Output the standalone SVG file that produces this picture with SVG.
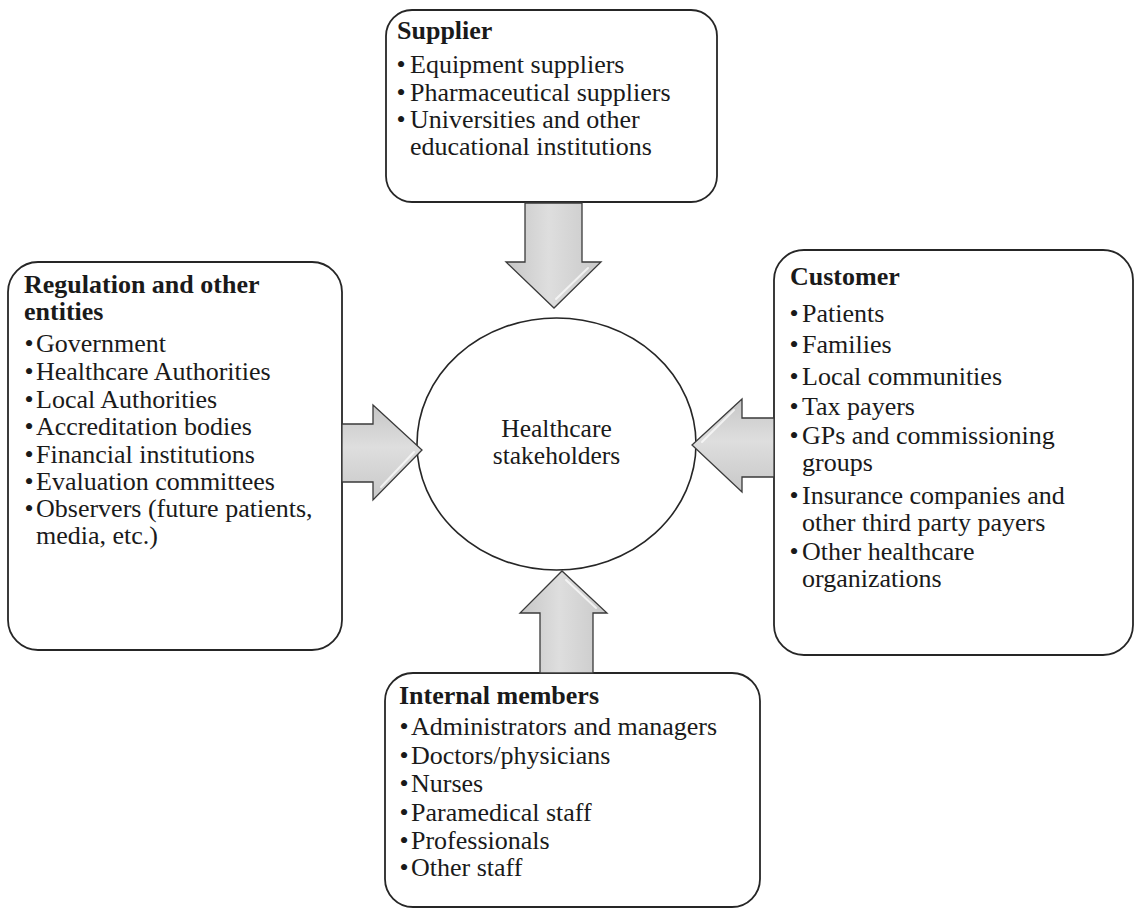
<svg xmlns="http://www.w3.org/2000/svg" width="1135" height="911" viewBox="0 0 1135 911">
  <defs>
    <linearGradient id="shadeV" x1="0" y1="0" x2="1" y2="0">
      <stop offset="0" stop-color="#c6c6c6"/>
      <stop offset="0.45" stop-color="#dedede"/>
      <stop offset="1" stop-color="#c8c8c8"/>
    </linearGradient>
    <linearGradient id="shadeH" x1="0" y1="0" x2="0" y2="1">
      <stop offset="0" stop-color="#c6c6c6"/>
      <stop offset="0.45" stop-color="#dedede"/>
      <stop offset="1" stop-color="#c8c8c8"/>
    </linearGradient>
    <style>
      .box { fill: #ffffff; stroke: #262626; stroke-width: 1.8; }
      .hub { fill: #ffffff; stroke: #262626; stroke-width: 1.6; }
      .arrow { stroke: #3a3a3a; stroke-width: 1.3; stroke-linejoin: miter; }
      .glint { fill: none; stroke: #ffffff; stroke-width: 2; stroke-opacity: 0.7; stroke-linecap: round; }
      text { font-family: "Liberation Serif", "Times New Roman", serif; font-size: 26px; fill: #1a1a1a; }
      .title { font-weight: bold; }
      .dot { text-anchor: middle; }
      .center { text-anchor: middle; font-size: 25.5px; }
    </style>
  </defs>

  <rect width="1135" height="911" fill="#ffffff"/>

  <!-- central hub -->
  <g id="hub">
    <ellipse class="hub" cx="556.5" cy="444" rx="139.5" ry="126"/>
    <text class="center" x="556.5" y="437">Healthcare</text>
    <text class="center" x="556.5" y="464">stakeholders</text>
  </g>

  <!-- supplier box (top) -->
  <g id="supplier">
    <rect class="box" x="386" y="10" width="331" height="192" rx="26"/>
    <text class="title" x="397" y="39">Supplier</text>
    <text class="dot" x="401" y="73">•</text><text x="410" y="73">Equipment suppliers</text>
    <text class="dot" x="401" y="101">•</text><text x="410" y="101">Pharmaceutical suppliers</text>
    <text class="dot" x="401" y="128">•</text><text x="410" y="128">Universities and other</text>
    <text x="410" y="155">educational institutions</text>
  </g>

  <!-- regulation box (left) -->
  <g id="regulation">
    <rect class="box" x="8" y="262" width="334" height="388" rx="30"/>
    <text class="title" x="24" y="293">Regulation and other</text>
    <text class="title" x="24" y="320">entities</text>
    <text class="dot" x="29" y="352">•</text><text x="36" y="352">Government</text>
    <text class="dot" x="29" y="380">•</text><text x="36" y="380">Healthcare Authorities</text>
    <text class="dot" x="29" y="408">•</text><text x="36" y="408">Local Authorities</text>
    <text class="dot" x="29" y="435">•</text><text x="36" y="435">Accreditation bodies</text>
    <text class="dot" x="29" y="463">•</text><text x="36" y="463">Financial institutions</text>
    <text class="dot" x="29" y="490">•</text><text x="36" y="490">Evaluation committees</text>
    <text class="dot" x="29" y="517">•</text><text x="36" y="517">Observers (future patients,</text>
    <text x="36" y="544">media, etc.)</text>
  </g>

  <!-- customer box (right) -->
  <g id="customer">
    <rect class="box" x="774" y="250" width="359" height="405" rx="30"/>
    <text class="title" x="790" y="285">Customer</text>
    <text class="dot" x="794" y="322">•</text><text x="802" y="322">Patients</text>
    <text class="dot" x="794" y="353">•</text><text x="802" y="353">Families</text>
    <text class="dot" x="794" y="385">•</text><text x="802" y="385">Local communities</text>
    <text class="dot" x="794" y="415">•</text><text x="802" y="415">Tax payers</text>
    <text class="dot" x="794" y="444">•</text><text x="802" y="444">GPs and commissioning</text>
    <text x="802" y="471">groups</text>
    <text class="dot" x="794" y="504">•</text><text x="802" y="504">Insurance companies and</text>
    <text x="802" y="531">other third party payers</text>
    <text class="dot" x="794" y="560">•</text><text x="802" y="560">Other healthcare</text>
    <text x="802" y="587">organizations</text>
  </g>

  <!-- internal members box (bottom) -->
  <g id="internal">
    <rect class="box" x="385" y="673" width="375" height="234" rx="28"/>
    <text class="title" x="399" y="704">Internal members</text>
    <text class="dot" x="404" y="735">•</text><text x="411" y="735">Administrators and managers</text>
    <text class="dot" x="404" y="764">•</text><text x="411" y="764">Doctors/physicians</text>
    <text class="dot" x="404" y="792">•</text><text x="411" y="792">Nurses</text>
    <text class="dot" x="404" y="821">•</text><text x="411" y="821">Paramedical staff</text>
    <text class="dot" x="404" y="849">•</text><text x="411" y="849">Professionals</text>
    <text class="dot" x="404" y="876">•</text><text x="411" y="876">Other staff</text>
  </g>

  <!-- block arrows pointing into the hub -->
  <g id="connectors">
    <polygon class="arrow" fill="url(#shadeV)" points="525,203 582,203 582,262 601,262 554,308 506,262 525,262"/>
    <polyline class="glint" points="588,268 556,299"/>
    <polygon class="arrow" fill="url(#shadeH)" points="342,424 373,424 373,405 422,450 373,500 373,482 342,482"/>
    <polyline class="glint" points="414,452 381,487"/>
    <polygon class="arrow" fill="url(#shadeH)" points="774,418 742,418 742,399 692,445 742,492 742,477 774,477"/>
    <polyline class="glint" points="734,410 702,442"/>
    <polygon class="arrow" fill="url(#shadeV)" points="540,673 540,613 520,613 562,571 607,613 593,613 593,673"/>
    <polyline class="glint" points="566,580 596,608"/>
  </g>
</svg>
